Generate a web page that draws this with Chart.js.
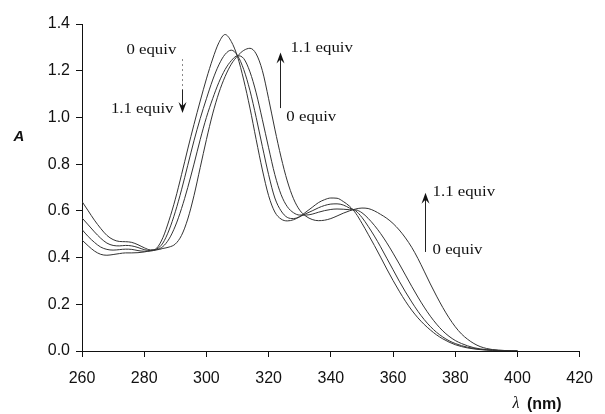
<!DOCTYPE html>
<html>
<head>
<meta charset="utf-8">
<script src="https://cdn.jsdelivr.net/npm/chart.js@4.4.1/dist/chart.umd.min.js"></script>
<style>
  body { margin: 0; background: #fff; }
  canvas { display: block; }
</style>
</head>
<body>
<canvas id="chart" width="605" height="414"></canvas>
<script>
// wavelength grid (nm), 2 nm steps
const wavelengths = [];
for (let w = 260; w <= 400; w += 2) wavelengths.push(w);

// absorbance, 0 equiv -> 1.1 equiv
const abs0 = [0.475, 0.45, 0.428, 0.414, 0.41, 0.413, 0.417, 0.42, 0.42, 0.421, 0.424, 0.43, 0.44,
  0.485, 0.56, 0.65, 0.755, 0.865, 0.97, 1.07, 1.165, 1.25, 1.32, 1.355, 1.325, 1.26, 1.16, 1.04, 0.905,
  0.775, 0.665, 0.595, 0.565, 0.557, 0.562, 0.575, 0.595, 0.615, 0.635, 0.648, 0.655, 0.654, 0.64,
  0.62, 0.59, 0.547, 0.5, 0.452, 0.402, 0.351, 0.302, 0.256, 0.213, 0.175, 0.142, 0.114, 0.09, 0.069,
  0.052, 0.038, 0.027, 0.019, 0.013, 0.009, 0.006, 0.004, 0.003, 0.002, 0.001, 0, 0];
const abs1 = [0.52, 0.49, 0.465, 0.445, 0.435, 0.432, 0.434, 0.436, 0.435, 0.43, 0.427, 0.428, 0.436,
  0.462, 0.518, 0.596, 0.69, 0.795, 0.9, 0.995, 1.08, 1.16, 1.225, 1.27, 1.288, 1.265, 1.205, 1.115, 1.0,
  0.875, 0.755, 0.655, 0.6, 0.572, 0.567, 0.575, 0.588, 0.6, 0.613, 0.623, 0.629, 0.63, 0.625,
  0.612, 0.6, 0.572, 0.534, 0.492, 0.446, 0.397, 0.348, 0.299, 0.253, 0.21, 0.17, 0.135, 0.105, 0.08,
  0.06, 0.044, 0.032, 0.023, 0.016, 0.011, 0.007, 0.005, 0.003, 0.002, 0.001, 0, 0];
const abs2 = [0.57, 0.54, 0.51, 0.483, 0.462, 0.452, 0.45, 0.452, 0.45, 0.443, 0.434, 0.43, 0.434,
  0.447, 0.48, 0.535, 0.61, 0.7, 0.8, 0.905, 1.0, 1.08, 1.15, 1.205, 1.243, 1.264, 1.252, 1.195, 1.105,
  0.99, 0.87, 0.755, 0.67, 0.618, 0.592, 0.582, 0.582, 0.586, 0.594, 0.601, 0.606, 0.608, 0.607,
  0.605, 0.604, 0.592, 0.568, 0.538, 0.503, 0.463, 0.419, 0.373, 0.325, 0.277, 0.231, 0.188, 0.149, 0.115,
  0.086, 0.063, 0.045, 0.032, 0.022, 0.014, 0.009, 0.006, 0.004, 0.002, 0.001, 0, 0];
const abs3 = [0.64, 0.6, 0.56, 0.525, 0.495, 0.477, 0.469, 0.468, 0.465, 0.455, 0.442, 0.433, 0.433,
  0.439, 0.445, 0.458, 0.495, 0.565, 0.665, 0.785, 0.905, 1.015, 1.105, 1.175, 1.228, 1.263, 1.287, 1.296, 1.272,
  1.2, 1.08, 0.95, 0.83, 0.728, 0.652, 0.603, 0.577, 0.563, 0.558, 0.56, 0.567, 0.578, 0.59,
  0.6, 0.608, 0.612, 0.61, 0.6, 0.585, 0.568, 0.546, 0.518, 0.484, 0.444, 0.396, 0.342, 0.287, 0.235,
  0.186, 0.142, 0.104, 0.073, 0.05, 0.032, 0.019, 0.011, 0.006, 0.004, 0.002, 0.001, 0];

const xTicks = [260, 280, 300, 320, 340, 360, 380, 400, 420];
const yTicks = [0, 0.2, 0.4, 0.6, 0.8, 1.0, 1.2, 1.4];

function toPoints(arr) {
  return wavelengths.map((w, i) => ({ x: w, y: arr[i] }));
}

function drawText(c, text, x, y, font, align, sx) {
  c.save();
  c.font = font;
  c.fillStyle = "#111";
  c.textBaseline = "middle";
  c.translate(x, y);
  c.scale(sx || 1, 1);
  c.textAlign = align || "left";
  c.fillText(text, 0, 0);
  c.restore();
}

function arrowHead(c, x, y, dir) {
  // dir = 1 pointing down, -1 pointing up
  c.beginPath();
  c.moveTo(x, y);
  c.lineTo(x - 4, y - 11 * dir);
  c.lineTo(x, y - 7 * dir);
  c.lineTo(x + 4, y - 11 * dir);
  c.closePath();
  c.fill();
}

const annotations = {
  id: "annotations",
  afterDraw(chart) {
    const c = chart.ctx;
    const xs = chart.scales.x, ys = chart.scales.y;
    const px = v => xs.getPixelForValue(v);
    const py = v => ys.getPixelForValue(v);
    const serif = "14px 'Liberation Serif'";

    c.save();
    c.strokeStyle = "#222";
    c.fillStyle = "#111";
    c.lineWidth = 1;

    // left arrow: 0 equiv -> 1.1 equiv (down)
    let ax = Math.round(px(292.1)) + 0.5;
    c.setLineDash([2, 3]);
    c.strokeStyle = "#888";
    c.beginPath(); c.moveTo(ax, py(1.25)); c.lineTo(ax, py(1.12)); c.stroke();
    c.setLineDash([]);
    c.strokeStyle = "#222";
    c.beginPath(); c.moveTo(ax, py(1.12)); c.lineTo(ax, py(1.03)); c.stroke();
    arrowHead(c, ax, py(1.019), 1);
    drawText(c, "0 equiv", px(282.3), py(1.289), serif, "center", 1.2);
    drawText(c, "1.1 equiv", px(289.4), py(1.036), serif, "right", 1.2);

    // middle arrow (up)
    ax = Math.round(px(323.7)) + 0.5;
    c.beginPath(); c.moveTo(ax, py(1.04)); c.lineTo(ax, py(1.26)); c.stroke();
    arrowHead(c, ax, py(1.278), -1);
    drawText(c, "1.1 equiv", px(327), py(1.297), serif, "left", 1.2);
    drawText(c, "0 equiv", px(325.7), py(1.0), serif, "left", 1.2);

    // right arrow (up)
    ax = Math.round(px(370.2)) + 0.5;
    c.beginPath(); c.moveTo(ax, py(0.424)); c.lineTo(ax, py(0.66)); c.stroke();
    arrowHead(c, ax, py(0.678), -1);
    drawText(c, "1.1 equiv", px(372.7), py(0.68), serif, "left", 1.2);
    drawText(c, "0 equiv", px(372.7), py(0.432), serif, "left", 1.2);

    // axis titles
    drawText(c, "A", 19, 137, "bold italic 15px 'Liberation Sans'", "center");
    drawText(c, "λ", 516, 404, "italic 16px 'Liberation Serif'", "center");
    drawText(c, "(nm)", 527, 405, "bold 16px 'Liberation Sans'", "left");
    c.restore();
  }
};

const ctx = document.getElementById("chart").getContext("2d");
new Chart(ctx, {
  type: "line",
  data: {
    datasets: [abs0, abs1, abs2, abs3].map((a, i) => ({
      label: ["0 equiv", "0.37 equiv", "0.73 equiv", "1.1 equiv"][i],
      data: toPoints(a),
      borderColor: "#333",
      borderWidth: 1,
      pointRadius: 0,
      cubicInterpolationMode: "monotone",
      fill: false,
    })),
  },
  options: {
    responsive: false,
    animation: false,
    layout: { padding: { top: 24, right: 18, left: 0, bottom: 0 } },
    plugins: { legend: { display: false }, tooltip: { enabled: false } },
    scales: {
      x: {
        type: "linear",
        min: xTicks[0],
        max: xTicks[xTicks.length - 1],
        afterBuildTicks: s => { s.ticks = xTicks.map(v => ({ value: v })); },
        afterFit: s => { s.height = 63; },
        ticks: { color: "#111", padding: 12, font: { family: "'Liberation Sans'", size: 16 } },
        grid: { drawOnChartArea: false, tickLength: 6, color: "#111" },
        border: { color: "#111", width: 1 },
      },
      y: {
        min: yTicks[0],
        max: yTicks[yTicks.length - 1],
        afterBuildTicks: s => { s.ticks = yTicks.map(v => ({ value: v })); },
        afterFit: s => { s.width = 82; },
        ticks: {
          color: "#111", padding: 6,
          font: { family: "'Liberation Sans'", size: 16 },
          callback: v => v.toFixed(1),
        },
        grid: { drawOnChartArea: false, tickLength: 6, color: "#111" },
        border: { color: "#111", width: 1 },
      },
    },
  },
  plugins: [annotations],
});
</script>
</body>
</html>
